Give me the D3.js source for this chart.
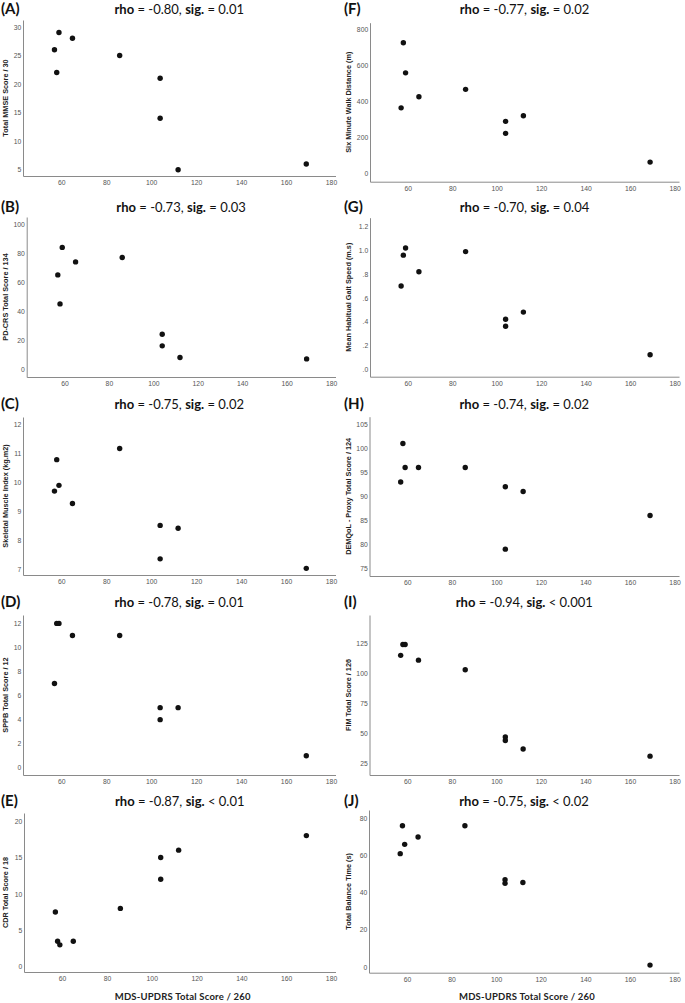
<!DOCTYPE html>
<html><head><meta charset="utf-8">
<script src="https://cdn.jsdelivr.net/npm/d3@7"></script>
<style>body{margin:0;background:#fff} svg{display:block}</style>
</head><body>
<script>
// ---------- DATA ----------
const mdsUpdrs = [57, 58, 59, 65, 86, 104, 104, 112, 169];
const mmse     = [26, 22, 29, 28, 25, 21, 14, 5, 6];
const pdcrs    = [65, 45, 84, 74, 77, 24, 16, 8, 7];
const smi      = [9.70, 10.79, 9.90, 9.27, 11.18, 8.51, 7.35, 8.41, 7.02];
const sppb     = [7, 12, 12, 11, 11, 5, 4, 5, 1];
const cdr      = [7.5, 3.5, 3, 3.5, 8, 15, 12, 16, 18];
const smwd     = [363, 725, 558, 425, 466, 288, 221, 319, 61];
const gait     = [0.70, 0.96, 1.02, 0.82, 0.99, 0.42, 0.36, 0.48, 0.12];
const demqol   = [93, 101, 96, 96, 96, 92, 79, 91, 86];
const fim      = [115, 124, 124, 111, 103, 47, 44, 37, 31];
const balance  = [61, 76, 66, 70, 76, 47, 45, 45.5, 1];

const panelLetters = ["(A)", "(B)", "(C)", "(D)", "(E)", "(F)", "(G)", "(H)", "(I)", "(J)"];
const rhoValues = ["-0.80", "-0.73", "-0.75", "-0.78", "-0.87", "-0.77", "-0.70", "-0.74", "-0.94", "-0.75"];
const sigValues = ["= 0.01", "= 0.03", "= 0.02", "= 0.01", "< 0.01", "= 0.02", "= 0.04", "= 0.02", "< 0.001", "< 0.02"];
const yTitles = ["Total MMSE Score / 30", "PD-CRS Total Score / 134", "Skeletal Muscle Index (kg.m2)",
  "SPPB Total Score / 12", "CDR Total Score / 18", "Six Minute Walk Distance (m)",
  "Mean Habitual Gait Speed (m.s)", "DEMQoL - Proxy Total Score / 124", "FIM Total Score / 126",
  "Total Balance Time (s)"];
const seriesValues = [mmse, pdcrs, smi, sppb, cdr, smwd, gait, demqol, fim, balance];
const yTickValues = [
  [5, 10, 15, 20, 25, 30],
  [0, 20, 40, 60, 80, 100],
  [7, 8, 9, 10, 11, 12],
  [0, 2, 4, 6, 8, 10, 12],
  [0, 5, 10, 15, 20],
  [0, 200, 400, 600, 800],
  [0, 0.2, 0.4, 0.6, 0.8, 1.0, 1.2],
  [75, 80, 85, 90, 95, 100, 105],
  [25, 50, 75, 100, 125],
  [0, 20, 40, 60, 80]
];
const yTickLabels = [
  ["5", "10", "15", "20", "25", "30"],
  ["0", "20", "40", "60", "80", "100"],
  ["7", "8", "9", "10", "11", "12"],
  ["0", "2", "4", "6", "8", "10", "12"],
  ["0", "5", "10", "15", "20"],
  ["0", "200", "400", "600", "800"],
  [".0", ".2", ".4", ".6", ".8", "1.0", "1.2"],
  ["75", "80", "85", "90", "95", "100", "105"],
  ["25", "50", "75", "100", "125"],
  ["0", "20", "40", "60", "80"]
];
const xTickValues = [60, 80, 100, 120, 140, 160, 180];
const xTitle = "MDS-UPDRS Total Score / 260";

// ---------- LAYOUT (positions / scale extents) ----------
const layout = [
  {x0: 23,   x1: 335.5, top: 20,    bottom: 176,   yd: [3.9, 31.2],     tb: 14},
  {x0: 26.7, x1: 335.5, top: 217,   bottom: 377,   yd: [-5.5, 105],     tb: 212.3},
  {x0: 23,   x1: 335.5, top: 417,   bottom: 575,   yd: [6.79, 12.27],   tb: 409.3},
  {x0: 23,   x1: 335.5, top: 615,   bottom: 775,   yd: [-0.6, 12.7],    tb: 607.3},
  {x0: 24,   x1: 335.5, top: 813,   bottom: 972,   yd: [-0.73, 21.1],   tb: 805.7},
  {x0: 370,  x1: 679,   top: 22.7,  bottom: 181.7, yd: [-48, 837],      tb: 14},
  {x0: 370,  x1: 679,   top: 217.7, bottom: 376.7, yd: [-0.065, 1.276], tb: 212.3},
  {x0: 369.5,x1: 679,   top: 416.7, bottom: 576,   yd: [73.4, 106.6],   tb: 409.3},
  {x0: 369.5,x1: 679,   top: 615,   bottom: 775,   yd: [15.3, 148.6],   tb: 607.3},
  {x0: 369,  x1: 679,   top: 810,   bottom: 972.7, yd: [-3.1, 84.5],    tb: 805.7}
];
const xDomain = [43, 182];

const svg = d3.select("body").append("svg").attr("width", 685).attr("height", 1003);

const tickFont = "'Liberation Sans', Arial, sans-serif";
const headFont = "Lato, 'Open Sans', sans-serif";

layout.forEach((L, i) => {
  const g = svg.append("g");
  const x = d3.scaleLinear().domain(xDomain).range([L.x0, L.x1]);
  const y = d3.scaleLinear().domain(L.yd).range([L.bottom, L.top]);
  const colLeft = i < 5 ? 1 : 344;

  const xa = g.append("g").attr("transform", `translate(0,${L.bottom})`)
    .call(d3.axisBottom(x).tickValues(xTickValues).tickSize(0).tickSizeOuter(0).tickPadding(4).tickFormat(d3.format("d")));
  const ya = g.append("g").attr("transform", `translate(${L.x0},0)`)
    .call(d3.axisLeft(y).tickValues(yTickValues[i]).tickSize(0).tickSizeOuter(0).tickPadding(1.8)
      .tickFormat((d, k) => yTickLabels[i][k]));
  [xa, ya].forEach(a => {
    a.select(".domain").attr("stroke", "#8a8a8a").attr("stroke-width", 1);
    a.selectAll("text").attr("font-family", tickFont).attr("font-size", 6.8).attr("fill", "#555");
  });

  const cy = (L.top + L.bottom) / 2;
  g.append("text")
    .attr("transform", `translate(${colLeft + 7},${cy}) rotate(-90)`)
    .attr("text-anchor", "middle")
    .attr("font-family", tickFont).attr("font-weight", "bold").attr("font-size", 7.3).attr("fill", "#222")
    .text(yTitles[i]);

  g.selectAll("circle").data(mdsUpdrs.map((v, k) => [v, seriesValues[i][k]])).join("circle")
    .attr("cx", d => x(d[0])).attr("cy", d => y(d[1])).attr("r", 2.7).attr("fill", "#111");

  g.append("text").attr("x", colLeft).attr("y", L.tb)
    .attr("font-family", headFont).attr("font-weight", "bold").attr("font-size", 15).attr("fill", "#111")
    .text(panelLetters[i]);

  const t = g.append("text").attr("x", (L.x0 + L.x1) / 2).attr("y", L.tb).attr("text-anchor", "middle")
    .attr("font-family", headFont).attr("font-size", 13).attr("fill", "#111");
  t.append("tspan").attr("font-weight", "bold").text("rho");
  t.append("tspan").text(` = ${rhoValues[i]}, `);
  t.append("tspan").attr("font-weight", "bold").text("sig.");
  t.append("tspan").text(` ${sigValues[i]}`);

  if (i === 4 || i === 9) {
    g.append("text").attr("x", (L.x0 + L.x1) / 2 + 3).attr("y", 1000).attr("text-anchor", "middle")
      .attr("font-family", headFont).attr("font-weight", "bold").attr("font-size", 9.5)
      .attr("letter-spacing", 0.2).attr("fill", "#222")
      .text(xTitle);
  }
});
</script>
</body></html>
